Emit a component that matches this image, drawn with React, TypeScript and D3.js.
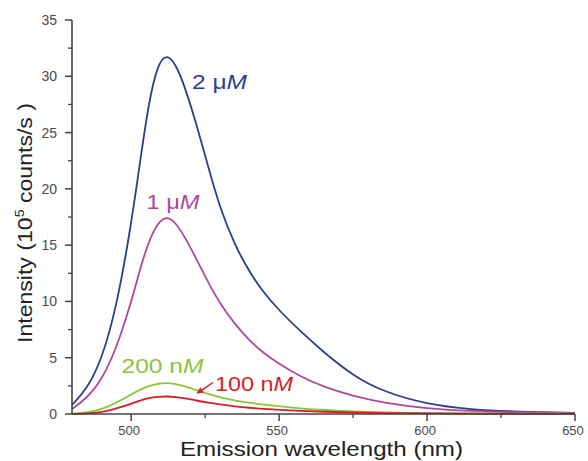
import React from "react";
import * as d3 from "d3";

const wavelengths = [480, 485, 490, 495, 500, 503, 506, 509, 512, 515, 518, 522, 526, 530, 535, 540, 545, 550, 557, 565, 575, 585, 600, 615, 630, 650];
const blue2uM = [0.8, 2.2, 4.8, 9.4, 16.8, 22.4, 27.8, 31.1, 32.0, 31.1, 29.2, 25.8, 22.0, 18.3, 15.0, 12.6, 10.7, 9.2, 7.4, 5.5, 3.4, 2.0, 0.85, 0.4, 0.2, 0.1];
const magenta1uM = [0.45, 1.4, 3.0, 5.8, 9.9, 12.9, 15.4, 17.0, 17.6, 17.0, 15.8, 13.8, 11.7, 9.8, 8.0, 6.5, 5.35, 4.45, 3.35, 2.4, 1.6, 1.0, 0.48, 0.25, 0.14, 0.08];
const green200nM = [0.03, 0.1, 0.4, 1.0, 1.75, 2.15, 2.5, 2.7, 2.76, 2.67, 2.47, 2.12, 1.78, 1.48, 1.2, 1.0, 0.83, 0.68, 0.5, 0.35, 0.22, 0.14, 0.08, 0.05, 0.03, 0.02];
const red100nM = [0.01, 0.04, 0.15, 0.5, 0.9, 1.2, 1.42, 1.54, 1.57, 1.51, 1.4, 1.2, 1.0, 0.85, 0.68, 0.55, 0.45, 0.37, 0.28, 0.2, 0.13, 0.08, 0.05, 0.03, 0.02, 0.01];

const xTicks = [500, 550, 600, 650];
const xMinorTicks = [525, 575, 625];
const yTicks = [0, 5, 10, 15, 20, 25, 30, 35];
const yMinorTicks = [2.5, 7.5, 12.5, 17.5, 22.5, 27.5, 32.5];

const series = [
  { name: "2 μM", values: blue2uM, color: "#2c3e8e", num: "2 μ", lx: 192, ly: 88.5, len: 55 },
  { name: "1 μM", values: magenta1uM, color: "#b0479c", num: "1 μ", lx: 146.5, ly: 209, len: 53 },
  { name: "200 nM", values: green200nM, color: "#8cc43e", num: "200 n", lx: 121.5, ly: 373, len: 82 },
  { name: "100 nM", values: red100nM, color: "#d71f26", num: "100 n", lx: 215, ly: 391, len: 78 },
];

export default function App() {
  const W = 588, H = 461;
  const x = d3.scaleLinear().domain([480, 650]).range([72, 575]);
  const y = d3.scaleLinear().domain([0, 35]).range([414, 20]);
  const line = d3
    .line<number>()
    .x((_, i) => x(wavelengths[i]))
    .y((v) => y(v))
    .curve(d3.curveBasis);
  const font = "'Liberation Sans', Arial, sans-serif";
  const axisColor = "#444";
  const ax1 = 213, ay1 = 382.5, ax2 = x(522), ay2 = y(1.8);
  const ang = Math.atan2(ay2 - ay1, ax2 - ax1);
  const ah = 7, aw = 3.2;
  const hx = ax2 - ah * Math.cos(ang), hy = ay2 - ah * Math.sin(ang);
  const arrowHead = `M${ax2},${ay2} L${hx + aw * Math.sin(ang)},${hy - aw * Math.cos(ang)} L${hx - aw * Math.sin(ang)},${hy + aw * Math.cos(ang)} Z`;
  return (
    <svg width={W} height={H} style={{ position: "absolute", left: 0, top: 0, background: "#fff" }} fontFamily={font}>
      {series.map((s) => (
        <path key={s.name} d={line(s.values) || ""} fill="none" stroke={s.color} strokeWidth={1.8} />
      ))}
      <line x1={72} x2={72} y1={y(35)} y2={y(0)} stroke={axisColor} strokeWidth={1.6} />
      <line x1={72} x2={x(650)} y1={y(0)} y2={y(0)} stroke={axisColor} strokeWidth={1.6} />
      {yTicks.map((t) => (
        <g key={"y" + t}>
          <line x1={65} x2={72} y1={y(t)} y2={y(t)} stroke={axisColor} strokeWidth={1.5} />
          <text x={57} y={y(t) + 5} textAnchor="end" fontSize={14} fill="#4a4a4a">{t}</text>
        </g>
      ))}
      {yMinorTicks.map((t) => (
        <line key={"ym" + t} x1={68} x2={72} y1={y(t)} y2={y(t)} stroke={axisColor} strokeWidth={1.3} />
      ))}
      {xTicks.map((t) => (
        <g key={"x" + t}>
          <line x1={x(t)} x2={x(t)} y1={y(0)} y2={y(0) + 7} stroke={axisColor} strokeWidth={1.5} />
          <text x={x(t) - 2} y={435} textAnchor="middle" fontSize={13} fill="#4a4a4a">{t}</text>
        </g>
      ))}
      {xMinorTicks.map((t) => (
        <line key={"xm" + t} x1={x(t)} x2={x(t)} y1={y(0)} y2={y(0) + 4} stroke={axisColor} strokeWidth={1.3} />
      ))}
      <text x={180} y={456} fontSize={20} fill="#222" textLength={283} lengthAdjust="spacingAndGlyphs">Emission wavelength (nm)</text>
      <text transform="translate(32,343) rotate(-90)" fontSize={21} fill="#222" textLength={240} lengthAdjust="spacingAndGlyphs">
        Intensity (10<tspan fontSize={13} dy={-8}>5</tspan><tspan dy={8}> counts/s )</tspan>
      </text>
      {series.map((s) => (
        <text key={"l" + s.name} x={s.lx} y={s.ly} fontSize={19.5} fill={s.color} textLength={s.len} lengthAdjust="spacingAndGlyphs">
          {s.num}<tspan fontStyle="italic">M</tspan>
        </text>
      ))}
      <line x1={ax1} y1={ay1} x2={hx} y2={hy} stroke="#d71f26" strokeWidth={1.5} />
      <path d={arrowHead} fill="#d71f26" />
    </svg>
  );
}
